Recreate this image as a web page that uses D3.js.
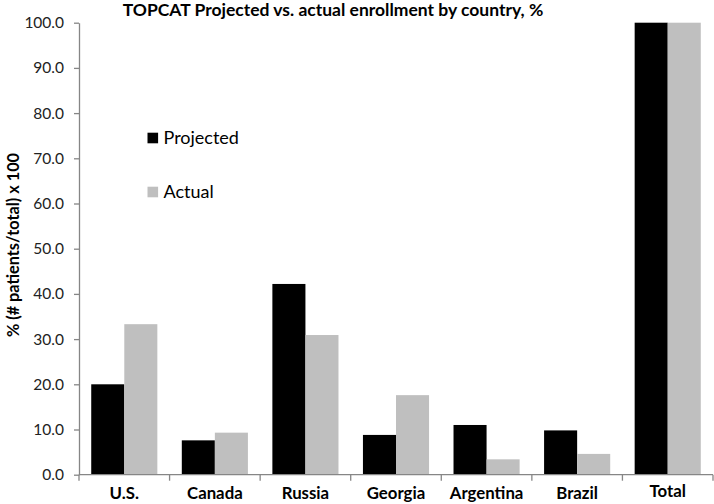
<!DOCTYPE html>
<html>
<head>
<meta charset="utf-8">
<script src="https://cdn.jsdelivr.net/npm/d3@7/dist/d3.min.js"></script>
<style>
  html, body { margin: 0; padding: 0; background: #fff; }
  svg { display: block; font-family: Lato, "Open Sans", sans-serif; }
</style>
</head>
<body>
<svg id="chart" width="714" height="504"></svg>
<script>
const categories = ["U.S.", "Canada", "Russia", "Georgia", "Argentina", "Brazil", "Total"];
const projected = [20.0, 7.6, 42.2, 8.8, 11.0, 9.8, 100.0];
const actual = [33.3, 9.3, 30.9, 17.6, 3.4, 4.6, 100.0];
const seriesNames = ["Projected", "Actual"];
const seriesColors = ["#000000", "#bfbfbf"];
const yTicks = [0, 10, 20, 30, 40, 50, 60, 70, 80, 90, 100];

const svg = d3.select("#chart");
const mLeft = 79, mRight = 713, mTop = 22.7, mBottom = 474.7;

const x = d3.scaleBand().domain(categories).range([mLeft, mRight]).paddingInner(0).paddingOuter(0);
const xs = d3.scaleBand().domain(seriesNames).range([0, x.bandwidth()]).paddingInner(0).paddingOuter(0.37);
const y = d3.scaleLinear().domain([0, 100]).range([mBottom, mTop]);

const data = categories.map((c, i) => ({ c, vals: [projected[i], actual[i]] }));

// bars
const g = svg.append("g");
data.forEach(d => {
  d.vals.forEach((v, j) => {
    g.append("rect")
      .attr("x", x(d.c) + xs(seriesNames[j]))
      .attr("y", y(v))
      .attr("width", xs.bandwidth())
      .attr("height", y(0) - y(v))
      .attr("fill", seriesColors[j]);
  });
});

// y axis
const axisColor = "#868686";
const yAxis = svg.append("g").attr("transform", `translate(${mLeft},0)`)
  .call(d3.axisLeft(y).tickValues(yTicks).tickSize(5).tickSizeOuter(0).tickFormat(d3.format(".1f")));
yAxis.select(".domain").attr("stroke", axisColor).attr("stroke-width", 1.3);
yAxis.selectAll(".tick line").attr("stroke", axisColor).attr("stroke-width", 1.3);
yAxis.selectAll(".tick text").attr("x", -15).attr("fill", "#222").style("font-size", "15.5px").style("font-family", "Lato, sans-serif");

// x axis
const xAxis = svg.append("g").attr("transform", `translate(0,${mBottom})`);
xAxis.append("line").attr("x1", mLeft).attr("x2", mRight).attr("y1", 0).attr("y2", 0)
  .attr("stroke", axisColor).attr("stroke-width", 1.3);
const bounds = categories.map(c => x(c)).concat([x(categories[categories.length - 1]) + x.bandwidth()]);
xAxis.selectAll("line.tk").data(bounds).enter().append("line").attr("class", "tk")
  .attr("x1", d => d).attr("x2", d => d).attr("y1", 0).attr("y2", 6)
  .attr("stroke", axisColor).attr("stroke-width", 1.3);
xAxis.selectAll("text.cat").data(categories).enter().append("text").attr("class", "cat")
  .attr("x", d => x(d) + x.bandwidth() / 2)
  .attr("y", d => d === "Total" ? 22.5 : 24)
  .attr("text-anchor", "middle")
  .attr("fill", "#000")
  .style("font-size", "16.8px").style("font-weight", "bold")
  .text(d => d);

// title
svg.append("text").attr("x", 333).attr("y", 15.5).attr("text-anchor", "middle")
  .style("font-size", "17.5px").style("font-weight", "bold").attr("fill", "#000")
  .text("TOPCAT Projected vs. actual enrollment by country, %");

// y label
svg.append("text").attr("transform", "translate(19,245) rotate(-90)")
  .attr("text-anchor", "middle")
  .style("font-size", "16.3px").style("font-weight", "bold").attr("fill", "#000")
  .text("% (# patients/total) x 100");

// legend
const legY = [132.7, 186.7];
seriesNames.forEach((s, i) => {
  svg.append("rect").attr("x", 147.5).attr("y", legY[i]).attr("width", 10.6).attr("height", 10.6)
    .attr("fill", seriesColors[i]);
  svg.append("text").attr("x", 163.5).attr("y", legY[i] + 10.8)
    .style("font-size", "18px").attr("fill", "#000").text(s);
});
</script>
</body>
</html>
